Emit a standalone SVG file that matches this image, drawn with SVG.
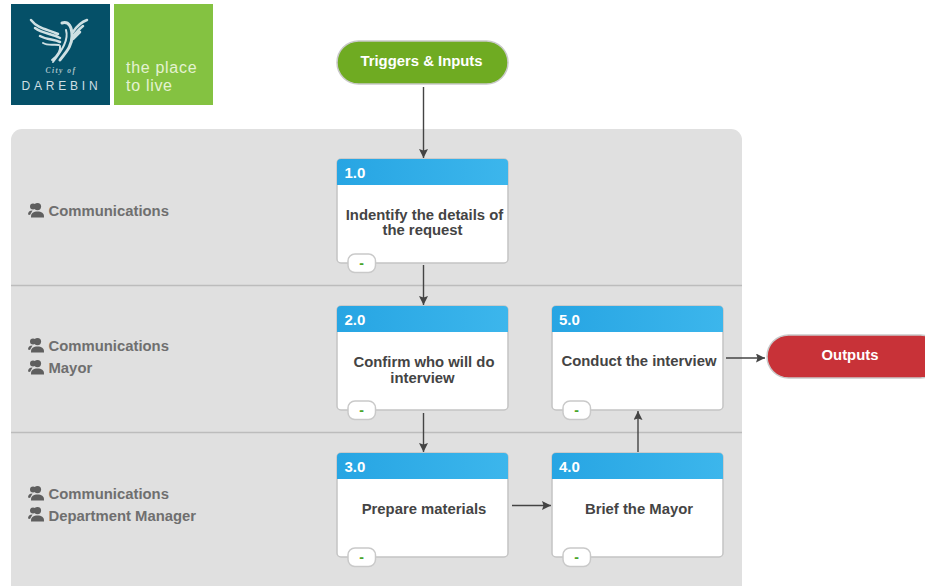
<svg xmlns="http://www.w3.org/2000/svg" width="925" height="586" viewBox="0 0 925 586">
<style>
text{font-family:"Liberation Sans",Arial,sans-serif}
.card{fill:#fff;stroke:#c4c4c4;stroke-width:1.5}
.num{fill:#fff;font-size:15px;font-weight:bold}
.lbl{fill:#444;font-size:14.850px;font-weight:bold;text-anchor:middle}
.role{fill:#6f6f6f;font-size:14.850px;font-weight:bold}
.pill{stroke:#c9c9c9;stroke-width:1.5}
.ptxt{fill:#fff;font-size:14.850px;font-weight:bold;text-anchor:middle}
.badge{fill:#fff;stroke:#c9c9c9;stroke-width:1.5}
.dash{fill:#4aa52a;font-size:14px;font-weight:bold;text-anchor:middle}
.sep{stroke:#bcbcbc;stroke-width:1.5}
.conn{stroke:#444;stroke-width:1.4;fill:none;marker-end:url(#arrow)}
.bird{fill:none;stroke:#cfe0e3;stroke-linecap:round}
</style>
<defs>
<linearGradient id="hdr" x1="0" x2="1" y1="0" y2="0"><stop offset="0" stop-color="#27a5e3"/><stop offset="1" stop-color="#3cb6ec"/></linearGradient>
<marker id="arrow" markerUnits="userSpaceOnUse" markerWidth="10" markerHeight="10" refX="9" refY="4.500" orient="auto"><path d="M0 0L9 4.500L0 9L1.500 4.500Z" fill="#444"/></marker>
<g id="people"><circle cx="9.500" cy="3.600" r="3.600"/><path d="M3 13.500c0-3.500 2.500-5 6.500-5s6.500 1.500 6.500 5v1H3Z"/><circle cx="5" cy="3.600" r="3"/><path d="M0 11.500c0-2.500 1.500-4 4.500-4l-2.500 4.500Z"/></g>
<g id="node-card"><rect class="card" x="0" y="0" width="171" height="104" rx="4"/><path d="M0 26V4a4 4 0 0 1 4-4H167a4 4 0 0 1 4 4V26Z" fill="url(#hdr)"/><rect class="badge" x="11" y="95" width="27.500" height="18.500" rx="7"/><text class="dash" x="24.500" y="109">-</text></g>
</defs>
<rect width="925" height="586" fill="#fff"/>
<g id="logo">
<rect x="11" y="4" width="99" height="101" fill="#055068"/>
<rect x="114" y="4" width="99" height="101" fill="#84c241"/>
<g class="bird">
<path stroke-width="2.500" d="M31 20C38 29 47 29 58 34M35 28C43 34 51 33 60 38M40 36C47 40 53 39 60 42"/>
<path stroke-width="2" d="M43 43C48 46 54 44 59 45"/>
<path stroke-width="2.500" d="M87 20C81 22 77 26 73 32M83 26C79 29 77 32 73 36M80 32C78 34 76 36 73 39"/>
<path stroke-width="3" d="M62 23C69 21 72 27 72 36C72 47 65 53 60 60"/>
<path stroke-width="2" d="M66 30C69 40 62 50 53 62M60 46C61 51 57 56 52 60"/>
</g>
<text x="61" y="73" fill="#a9c3ca" font-size="7.500" font-style="italic" font-weight="bold" text-anchor="middle" style="font-family:'Liberation Serif',serif" letter-spacing="1.500">City of</text>
<text x="61.500" y="90" fill="#cfdfe3" font-size="12" text-anchor="middle" letter-spacing="3.800">DAREBIN</text>
<text x="126" y="73" fill="#e4f2d2" font-size="16" letter-spacing="0.700">the place</text>
<text x="126" y="91" fill="#e4f2d2" font-size="16" letter-spacing="0.700">to live</text>
</g>
<g id="lanes">
<rect x="11" y="129" width="731" height="470" rx="11" fill="#e0e0e0"/>
<line class="sep" x1="11" y1="285.500" x2="742" y2="285.500"/>
<line class="sep" x1="11" y1="432.500" x2="742" y2="432.500"/>
</g>
<g id="roles" fill="#5f5f5f">
<use href="#people" x="28" y="203"/><text class="role" x="48.500" y="216">Communications</text>
<use href="#people" x="28" y="338"/><text class="role" x="48.500" y="351">Communications</text>
<use href="#people" x="28" y="360"/><text class="role" x="48.500" y="373">Mayor</text>
<use href="#people" x="28" y="486"/><text class="role" x="48.500" y="499">Communications</text>
<use href="#people" x="28" y="507"/><text class="role" x="48.500" y="521">Department Manager</text>
</g>
<g id="connectors">
<path class="conn" d="M423.500 87V158"/>
<path class="conn" d="M423.500 265V305"/>
<path class="conn" d="M423.500 413V452"/>
<path class="conn" d="M512 505.500H551"/>
<path class="conn" d="M638 452V411"/>
<path class="conn" d="M726 358H765"/>
</g>
<g id="trigger"><rect class="pill" x="337" y="41" width="171" height="43" rx="21.500" fill="#6fab22"/><text class="ptxt" x="421.500" y="66">Triggers &amp; Inputs</text></g>
<g id="outputs"><rect class="pill" x="767" y="335" width="175" height="43" rx="21.500" fill="#c83238"/><text class="ptxt" x="850" y="360">Outputs</text></g>
<g id="n1"><use href="#node-card" x="337" y="159"/><text class="num" x="344.500" y="178">1.0</text><text class="lbl" x="424.500" y="220">Indentify the details of</text><text class="lbl" x="422.500" y="235">the request</text></g>
<g id="n2"><use href="#node-card" x="337" y="306"/><text class="num" x="344.500" y="325">2.0</text><text class="lbl" x="424" y="367">Confirm who will do</text><text class="lbl" x="422.500" y="383">interview</text></g>
<g id="n3"><use href="#node-card" x="337" y="453"/><text class="num" x="344.500" y="472">3.0</text><text class="lbl" x="424" y="514">Prepare materials</text></g>
<g id="n4"><use href="#node-card" x="552" y="453"/><text class="num" x="559" y="472">4.0</text><text class="lbl" x="639" y="514">Brief the Mayor</text></g>
<g id="n5"><use href="#node-card" x="552" y="306"/><text class="num" x="559" y="325">5.0</text><text class="lbl" x="639" y="366">Conduct the interview</text></g>
</svg>
